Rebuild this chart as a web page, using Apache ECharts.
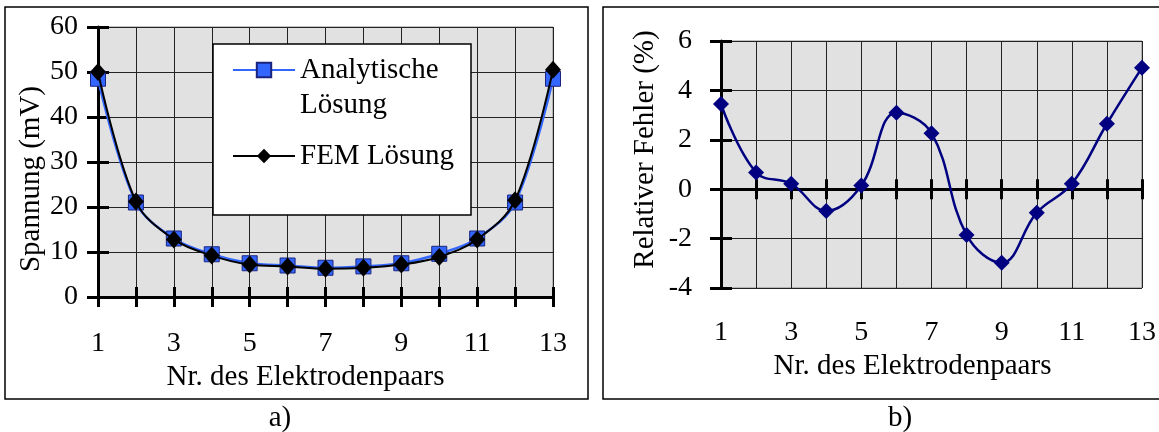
<!DOCTYPE html>
<html>
<head>
<meta charset="utf-8">
<script src="https://cdn.jsdelivr.net/npm/echarts@6/dist/echarts.min.js"></script>
<style>
html,body{margin:0;padding:0;background:#fff;}
#c{width:1159px;height:432px;}
</style>
</head>
<body>
<div id="c"></div>
<script>
const electrodes = [1,2,3,4,5,6,7,8,9,10,11,12,13];
const analytisch = [48.5,21,13,9.5,7.5,7,6.5,6.8,7.5,9.6,13,21,48.5];
const fem = [50,21.2,12.8,9.2,7.2,6.8,6.3,6.5,7.2,8.9,12.8,21.5,50.5];
const relFehler = [3.45,0.68,0.22,-0.88,0.15,3.1,2.27,-1.85,-2.98,-0.95,0.22,2.65,4.92];
const yTicksA = [0,10,20,30,40,50,60];
const yTicksB = [-4,-2,0,2,4,6];

const FONT = 'Liberation Serif';
const FS = 28;
const FST = 29;
const pairs = (xs, ys) => xs.map((x,i)=>[x, ys[i]]);
const oddFmt = v => (v % 2 === 1 ? String(v) : '');

const chart = echarts.init(document.getElementById('c'), null, {renderer:'canvas'});

function xAxesFor(gridIndex, labelMargin, nameTxt, nameGap, namePad, onZero) {
  const base = {type:'value', gridIndex, min:1, max:13, interval:1};
  return [
    Object.assign({}, base, {
      position:'bottom',
      axisLine:{show:!onZero, onZero:false, lineStyle:{color:'#000', width:3}},
      axisTick:{show:!onZero, inside:true, length:10, lineStyle:{color:'#000', width:3}},
      axisLabel:{show:true, margin:labelMargin, formatter:oddFmt, color:'#000', fontFamily:FONT, fontSize:FS},
      splitLine:{show:true, lineStyle:{color:'#222', width:1}},
      name:nameTxt, nameLocation:'middle', nameGap:nameGap,
      nameTextStyle:{color:'#000', fontFamily:FONT, fontSize:FST, padding:namePad}
    }),
    Object.assign({}, base, {
      position:'bottom',
      axisLine:{show:onZero, onZero:onZero, lineStyle:{color:'#000', width:3}},
      axisTick:{show:true, inside:false, length:10, lineStyle:{color:'#000', width:3}},
      axisLabel:{show:false}, splitLine:{show:false}
    }),
    Object.assign({}, base, {
      position:'bottom',
      axisLine:{show:false, onZero:onZero},
      axisTick:{show:true, inside:true, length:10, lineStyle:{color:'#000', width:3}},
      axisLabel:{show:false}, splitLine:{show:false}
    })
  ];
}

function yAxesFor(gridIndex, min, max, interval, labelMargin, nameTxt, nameGap, namePad) {
  const base = {type:'value', gridIndex, min, max, interval, position:'left'};
  return [
    Object.assign({}, base, {
      axisLine:{show:true, onZero:false, lineStyle:{color:'#000', width:3}},
      axisTick:{show:true, inside:false, length:11, lineStyle:{color:'#000', width:3}},
      axisLabel:{show:true, margin:labelMargin, color:'#000', fontFamily:FONT, fontSize:FS},
      splitLine:{show:true, lineStyle:{color:'#222', width:1}},
      name:nameTxt, nameLocation:'middle', nameGap:nameGap,
      nameTextStyle:{color:'#000', fontFamily:FONT, fontSize:FST, padding:namePad}
    }),
    Object.assign({}, base, {
      axisLine:{show:false, onZero:false},
      axisTick:{show:true, inside:true, length:11, lineStyle:{color:'#000', width:3}},
      axisLabel:{show:false}, splitLine:{show:false}
    })
  ];
}

const xAxes = [].concat(
  xAxesFor(0, 33, 'Nr. des Elektrodenpaars', 57, [0,40,0,0], false),
  xAxesFor(1, 31, 'Nr. des Elektrodenpaars', 60, [0,38,0,0], true)
);
const yAxes = [].concat(
  yAxesFor(0, yTicksA[0], yTicksA[yTicksA.length-1], 10, 20, 'Spannung (mV)', 44, [0,34,0,0]),
  yAxesFor(1, yTicksB[0], yTicksB[yTicksB.length-1], 2, 29, 'Relativer Fehler (%)', 61, [0,0,0,30])
);
xAxes[4].axisLine.onZeroAxisIndex = 2;
xAxes[5].axisLine.onZeroAxisIndex = 2;

const option = {
  animation:false,
  backgroundColor:'#fff',
  graphic:[
    {type:'rect', shape:{x:5, y:7, width:583, height:392}, style:{fill:'none', stroke:'#000', lineWidth:1.5}, z:-10},
    {type:'rect', shape:{x:603, y:7, width:560, height:392}, style:{fill:'none', stroke:'#000', lineWidth:1.5}, z:-10},
    {type:'rect', shape:{x:213, y:44, width:258, height:171}, style:{fill:'#fff', stroke:'#000', lineWidth:1.5}, z:50},
    {type:'text', style:{text:'a)', x:280, y:418, fill:'#000', font:FST+'px "'+FONT+'"', textAlign:'center', textVerticalAlign:'middle'}, z:10},
    {type:'text', style:{text:'b)', x:900, y:418, fill:'#000', font:FST+'px "'+FONT+'"', textAlign:'center', textVerticalAlign:'middle'}, z:10}
  ],
  grid:[
    {left:98, top:27, width:455, height:270, show:true, backgroundColor:'#e1e1e1', borderColor:'#888', borderWidth:1, containLabel:false},
    {left:721, top:41, width:422, height:247, show:true, backgroundColor:'#e1e1e1', borderColor:'#888', borderWidth:1, containLabel:false}
  ],
  xAxis:xAxes,
  yAxis:yAxes,
  legend:{
    left:232, top:17.5, orient:'vertical', padding:0, itemGap:16,
    itemWidth:62, itemHeight:18, z:60,
    textStyle:{fontFamily:FONT, fontSize:29, color:'#000', lineHeight:35},
    formatter: n => (n === 'Analytische Lösung' ? '\nAnalytische\nLösung' : n),
    data:['Analytische Lösung', 'FEM Lösung']
  },
  series:[
    {
      name:'Analytische Lösung', type:'line', xAxisIndex:0, yAxisIndex:0,
      data:pairs(electrodes, analytisch), smooth:0.35,
      symbol:'rect', symbolSize:15,
      lineStyle:{color:'#3366ff', width:2.5},
      itemStyle:{color:'#3366ff', borderColor:'#1a237e', borderWidth:1},
      z:3
    },
    {
      name:'FEM Lösung', type:'line', xAxisIndex:0, yAxisIndex:0,
      data:pairs(electrodes, fem), smooth:0.35,
      symbol:'diamond', symbolSize:[16,18],
      lineStyle:{color:'#000', width:2},
      itemStyle:{color:'#000'},
      z:4
    },
    {
      name:'Relativer Fehler', type:'line', xAxisIndex:3, yAxisIndex:2,
      data:pairs(electrodes, relFehler), smooth:0.4,
      symbol:'diamond', symbolSize:[16,16],
      lineStyle:{color:'#000080', width:2.5},
      itemStyle:{color:'#000080'},
      z:4
    }
  ]
};
chart.setOption(option);
</script>
</body>
</html>
